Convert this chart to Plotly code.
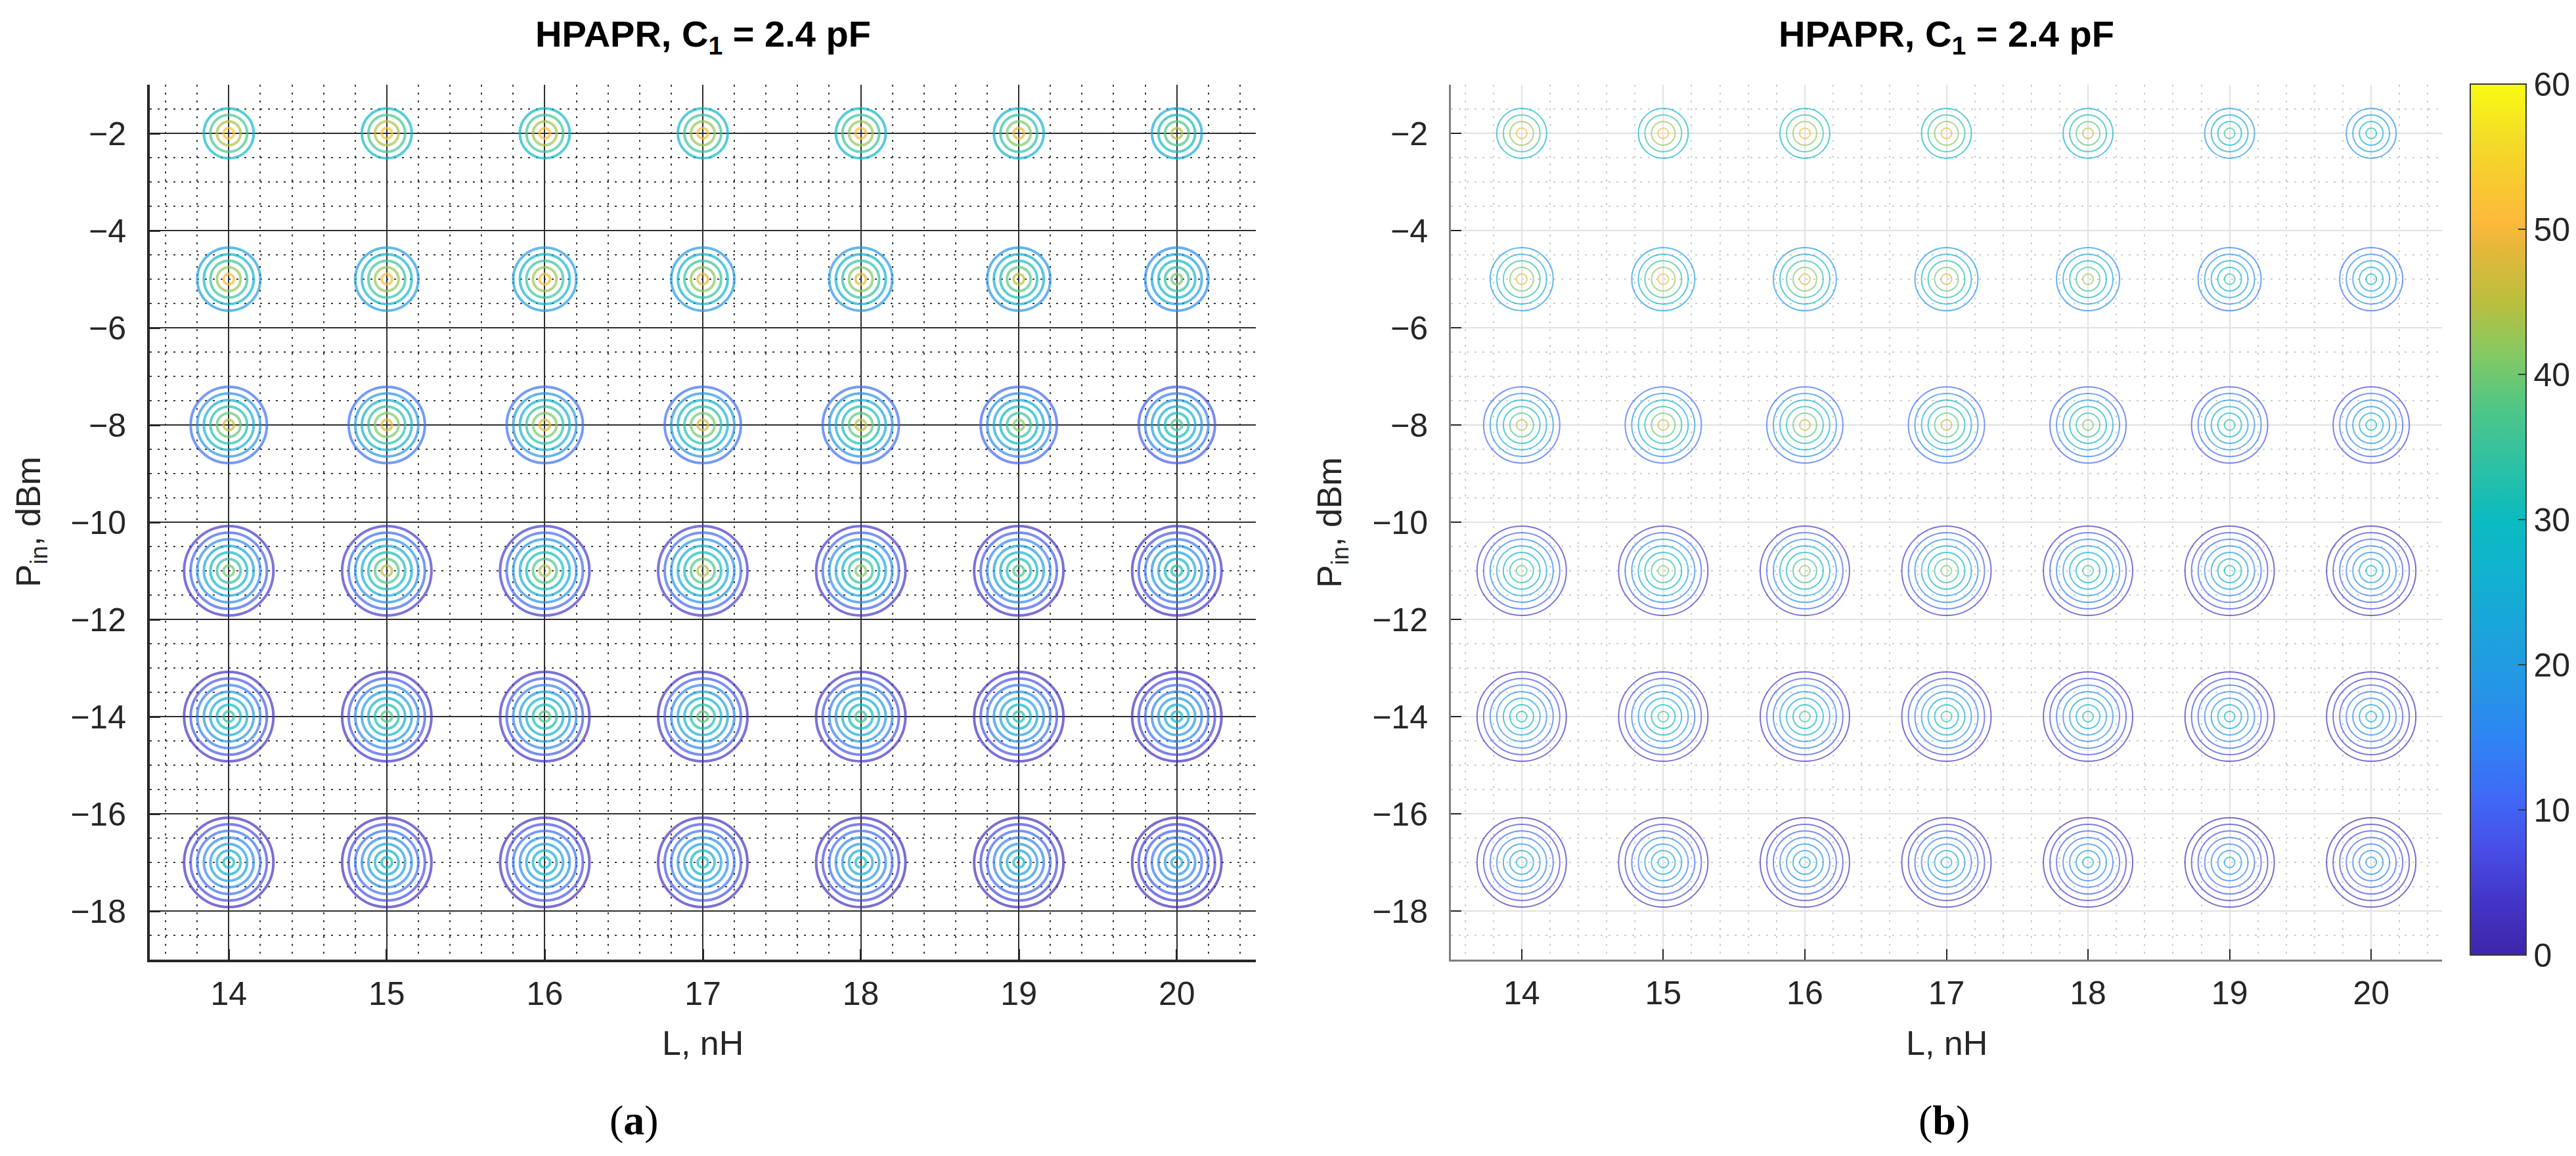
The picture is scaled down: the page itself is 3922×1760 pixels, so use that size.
import plotly.graph_objects as go

# ---------------- data ----------------
L_NH = [14, 15, 16, 17, 18, 19, 20]            # x categories (inductance, nH)
PIN_DBM = [-2, -5, -8, -11, -14, -17]          # y categories (input power, dBm)
RING_COUNT = [4, 5, 6, 7, 7, 7]                # number of contour rings per Pin row
# level of ring k (inner -> outer) relative to the centre value
RING_FRACTION = [1.00, 0.85, 0.70, 0.55, 0.40, 0.25, 0.10]

# centre (innermost ring) values, rows follow PIN_DBM, columns follow L_NH
HPAPR_A = [
    [52, 52, 51, 50, 50, 48, 44],
    [50, 50, 50, 49, 48, 45, 40],
    [46, 48, 48, 47, 45, 41, 36],
    [40, 44, 44, 44, 41, 37, 32],
    [34, 37, 37, 38, 35, 32, 28],
    [29, 30, 30, 31, 28, 26, 23],
]
HPAPR_B = [
    [50, 50, 50, 49, 45, 35, 31],
    [48, 50, 49, 47, 43, 34, 30],
    [44, 46, 46, 45, 40, 33, 28],
    [39, 41, 42, 41, 36, 30, 26],
    [32, 35, 35, 34, 31, 27, 23],
    [26, 27, 25, 26, 24, 21, 19],
]
CBAR_TICKS = [0, 10, 20, 30, 40, 50, 60]
X_TICKS = L_NH
Y_TICKS = [-18, -16, -14, -12, -10, -8, -6, -4, -2]

# ---------------- styling ----------------
W, H = 3922, 1760
RING_STEP_PX = 20          # ring diameter increment (pixels)
FONT = "Liberation Sans, Arial, Helvetica, sans-serif"
SERIF = "Liberation Serif, Times New Roman, serif"
INK = "#262626"

PARULA = [
    [0.0, "#3e26a8"], [0.0625, "#4435c8"], [0.125, "#4750e8"],
    [0.1875, "#3e6cf6"], [0.25, "#2f85f3"], [0.3125, "#2497e4"],
    [0.375, "#1ba5da"], [0.4375, "#11b2cf"], [0.5, "#0abbc0"],
    [0.5625, "#2dc1a4"], [0.625, "#4dc688"], [0.6875, "#82c964"],
    [0.75, "#bbbf3e"], [0.8125, "#e6b73a"], [0.8438, "#feba3c"],
    [0.875, "#f9c532"], [0.9375, "#f3dd26"], [1.0, "#f9fb14"],
]

# axes geometry (pixels)
AX_TOP, AX_BOT = 121, 1453
A_L, A_R = 220, 1904
B_L, B_R = 2201, 3710


def px_x(p):
    return p / W


def px_y(p):
    return 1 - p / H


def ring_trace(values, xa, ya, lw, showscale):
    xs, ys, cs, ss = [], [], [], []
    nmax = max(RING_COUNT)
    for k in reversed(range(nmax)):
        for i, p in enumerate(PIN_DBM):
            if k >= RING_COUNT[i]:
                continue
            for j, l in enumerate(L_NH):
                xs.append(l)
                ys.append(p)
                cs.append(values[i][j] * RING_FRACTION[k])
                ss.append(RING_STEP_PX * (k + 1) - 4)
    marker = dict(
        symbol="circle-open", size=ss, color=cs, colorscale=PARULA,
        cmin=0, cmax=60, line=dict(width=lw), showscale=showscale,
    )
    if showscale:
        marker["colorbar"] = dict(
            x=px_x(3753), xanchor="left", xpad=0, ypad=0,
            y=px_y((120 + 1446) / 2), yanchor="middle",
            len=(1446 - 120) / H, lenmode="fraction",
            thickness=85, thicknessmode="pixels",
            outlinewidth=2, outlinecolor="#3a3a3a",
            tickvals=CBAR_TICKS, ticks="inside", ticklen=13,
            tickwidth=2, tickcolor="#3a3a3a",
            tickfont=dict(family=FONT, size=50, color=INK),
        )
    return go.Scatter(x=xs, y=ys, mode="markers", marker=marker,
                      xaxis=xa, yaxis=ya, hoverinfo="skip", showlegend=False)


fig = go.Figure()
fig.add_trace(ring_trace(HPAPR_A, "x", "y", 4, False))
fig.add_trace(ring_trace(HPAPR_B, "x2", "y2", 2, True))


def xaxis(dom, anchor, dark):
    return dict(
        domain=dom, anchor=anchor, range=[13.5, 20.5],
        tickvals=X_TICKS, ticks="inside", ticklen=16,
        tickwidth=3 if dark else 2, tickcolor=INK,
        showline=True, linewidth=4 if dark else 3,
        linecolor=INK if dark else "#7f7f7f",
        showgrid=True, gridcolor="#2e2e2e" if dark else "#e1e1e1",
        gridwidth=2,
        minor=dict(dtick=0.2, tick0=0, showgrid=True,
                   gridcolor="#3a3a3a" if dark else "#cdcdcd",
                   griddash="3px,9px", gridwidth=2),
        zeroline=False, ticklabelstandoff=5,
        tickfont=dict(family=FONT, size=50, color=INK),
    )


def yaxis(dom, anchor, dark):
    return dict(
        domain=dom, anchor=anchor, range=[-19, -1],
        tickvals=Y_TICKS, ticks="inside", ticklen=16,
        tickwidth=3 if dark else 2, tickcolor=INK,
        showline=True, linewidth=4 if dark else 3,
        linecolor=INK if dark else "#7f7f7f",
        showgrid=True, gridcolor="#2e2e2e" if dark else "#e1e1e1",
        gridwidth=2,
        minor=dict(dtick=0.5, tick0=0, showgrid=True,
                   gridcolor="#3a3a3a" if dark else "#cdcdcd",
                   griddash="3px,9px", gridwidth=2),
        zeroline=False, ticklabelstandoff=22,
        tickfont=dict(family=FONT, size=50, color=INK),
    )


ydom = [px_y(AX_BOT), px_y(AX_TOP)]
fig.update_layout(
    width=W, height=H, margin=dict(l=0, r=0, t=0, b=0),
    paper_bgcolor="white", plot_bgcolor="white",
    xaxis=xaxis([px_x(A_L), px_x(A_R)], "y", True),
    yaxis=yaxis(ydom, "x", True),
    xaxis2=xaxis([px_x(B_L), px_x(B_R)], "y2", False),
    yaxis2=yaxis(ydom, "x2", False),
)

ann = []
title = "<b>HPAPR, C<sub>1</sub> = 2.4 pF</b>"
for (l, r, ylab_x, panel_x, tag) in [
    (A_L, A_R, 39, 957, "a"),
    (B_L, B_R, 2020, 2952, "b"),
]:
    cx = px_x((l + r) / 2)
    ann.append(dict(text=title, x=cx, y=px_y(48), xref="paper", yref="paper",
                    xanchor="center", yanchor="middle", showarrow=False,
                    font=dict(family=FONT, size=56, color="black")))
    ann.append(dict(text="L, nH", x=cx, y=px_y(1580), xref="paper",
                    yref="paper", xanchor="center", yanchor="middle",
                    showarrow=False,
                    font=dict(family=FONT, size=52, color=INK)))
    ann.append(dict(text="P<sub>in</sub>, dBm", x=px_x(ylab_x),
                    y=px_y((AX_TOP + AX_BOT) / 2), xref="paper",
                    yref="paper", xanchor="center", yanchor="middle",
                    textangle=-90, showarrow=False,
                    font=dict(family=FONT, size=52, color=INK)))
    ann.append(dict(text="(<b>%s</b>)" % tag, x=px_x(panel_x), y=px_y(1697),
                    xref="paper", yref="paper", xanchor="center",
                    yanchor="middle", showarrow=False,
                    font=dict(family=SERIF, size=64, color="black")))
fig.update_layout(annotations=ann)

fig.write_html("out.html")
